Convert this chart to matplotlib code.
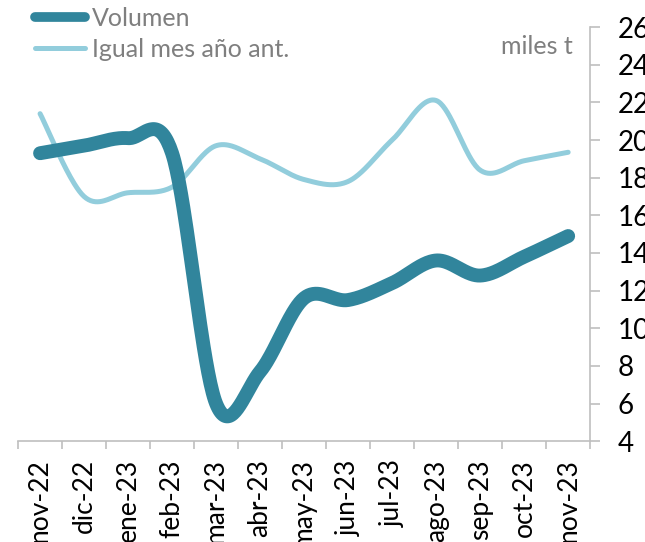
import numpy as np
import matplotlib.pyplot as plt
from matplotlib.lines import Line2D

meses = ['nov-22', 'dic-22', 'ene-23', 'feb-23', 'mar-23', 'abr-23', 'may-23',
         'jun-23', 'jul-23', 'ago-23', 'sep-23', 'oct-23', 'nov-23']
volumen = [19.3, 19.7, 20.1, 19.3, 6.0, 7.7, 11.6, 11.5, 12.4, 13.6, 12.8, 13.8, 14.9]
igual_mes_ant = [21.4, 17.0, 17.2, 17.5, 19.7, 19.0, 17.9, 17.8, 20.0, 22.1, 18.4, 18.9, 19.35]
y_ticks = list(range(4, 27, 2))

OSCURO = '#31859C'
CLARO = '#92CDDC'
GRIS = '#BFBFBF'
TEXTO = '#7F7F7F'

plt.rcParams['font.family'] = ['Lato', 'DejaVu Sans']


def suavizar(ys, n=40):
    # curva bezier tipo "linea suavizada" de Excel
    xs = np.arange(len(ys), dtype=float)
    ys = np.asarray(ys, dtype=float)
    px, py = [], []
    for i in range(len(ys) - 1):
        x0, y0 = xs[i], ys[i]
        x3, y3 = xs[i + 1], ys[i + 1]
        xa, ya = (xs[i - 1], ys[i - 1]) if i > 0 else (x0, y0)
        xb, yb = (xs[i + 2], ys[i + 2]) if i + 2 < len(ys) else (x3, y3)
        x1, y1 = x0 + (x3 - xa) / 6, y0 + (y3 - ya) / 6
        x2, y2 = x3 - (xb - x0) / 6, y3 - (yb - y0) / 6
        t = np.linspace(0, 1, n)
        px.append((1-t)**3*x0 + 3*(1-t)**2*t*x1 + 3*(1-t)*t**2*x2 + t**3*x3)
        py.append((1-t)**3*y0 + 3*(1-t)**2*t*y1 + 3*(1-t)*t**2*y2 + t**3*y3)
    return np.concatenate(px), np.concatenate(py)


fig = plt.figure(figsize=(6.45, 5.42), dpi=100)
ax = fig.add_axes([0.028, 0.186, 0.887, 0.764])

x1, y1 = suavizar(igual_mes_ant)
x2, y2 = suavizar(volumen)
ax.plot(x1, y1, color=CLARO, lw=3.6, solid_capstyle='round', zorder=2)
ax.plot(x2, y2, color=OSCURO, lw=10, solid_capstyle='round', zorder=3)

ax.set_xlim(-0.5, len(meses) - 0.5)
ax.set_ylim(4, 26)

ax.set_xticks(range(len(meses)))
ax.set_xticklabels(meses, rotation=90, fontsize=19)
ax.set_xticks(np.arange(-0.5, len(meses)), minor=True)
ax.tick_params(axis='x', which='major', length=0, pad=13)
ax.tick_params(axis='x', which='minor', length=6, color=GRIS, width=1.2)

ax.yaxis.tick_right()
ax.set_yticks(y_ticks)
ax.tick_params(axis='y', length=7, color=GRIS, width=1.2, labelsize=20, pad=13)

for s in ['top', 'left']:
    ax.spines[s].set_visible(False)
for s in ['right', 'bottom']:
    ax.spines[s].set_color(GRIS)
    ax.spines[s].set_linewidth(1.2)

ax.text(0.97, 0.952, 'miles t', transform=ax.transAxes, ha='right', va='center',
        fontsize=18, color=TEXTO)

handles = [Line2D([], [], color=OSCURO, lw=7, solid_capstyle='round'),
           Line2D([], [], color=CLARO, lw=3.6, solid_capstyle='round')]
leg = fig.legend(handles, ['Volumen', 'Igual mes año ant.'], loc='upper left',
                 bbox_to_anchor=(35 / 645, 1 - 7 / 542), frameon=False, fontsize=18,
                 borderpad=0, borderaxespad=0,
                 handlelength=2.0, handletextpad=0.28, labelspacing=0.32)
for t in leg.get_texts():
    t.set_color(TEXTO)

fig.savefig('out.png', dpi=100)
